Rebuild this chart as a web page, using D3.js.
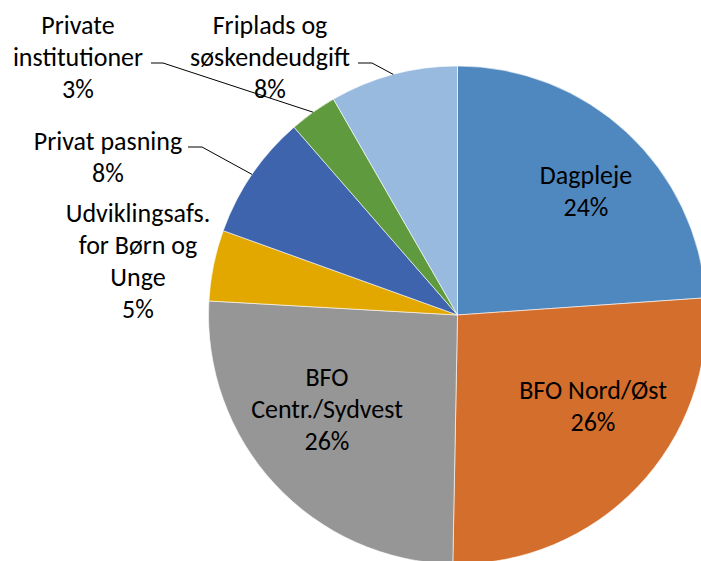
<!DOCTYPE html>
<html>
<head>
<meta charset="utf-8">
<script src="https://cdn.jsdelivr.net/npm/d3@7"></script>
<style>
  html, body { margin: 0; padding: 0; background: #fff; }
  svg { display: block; }
  text { font-family: Carlito, "Liberation Sans", sans-serif; font-size: 26px; fill: #000; }
</style>
</head>
<body>
<svg id="chart" width="701" height="561"></svg>
<script>
// ---- data ----
const categories = [
  "Dagpleje",
  "BFO Nord/Øst",
  "BFO Centr./Sydvest",
  "Udviklingsafs. for Børn og Unge",
  "Privat pasning",
  "Private institutioner",
  "Friplads og søskendeudgift"
];
const values = [23.9, 26.4, 25.6, 4.6, 8.1, 3.1, 8.3];
const labelLines = [
  ["Dagpleje"],
  ["BFO Nord/Øst"],
  ["BFO", "Centr./Sydvest"],
  ["Udviklingsafs.", "for Børn og", "Unge"],
  ["Privat pasning"],
  ["Private", "institutioner"],
  ["Friplads og", "søskendeudgift"]
];
const colors = ["#4F88BE", "#D46E2C", "#969696", "#E2A800", "#3D64AD", "#5F9A3F", "#98BADF"];

// ---- layout (label anchor = center x, first baseline y; leader = elbow point) ----
const labelAnchor = [
  [586, 184], [593, 399], [327, 386], [138, 222], [108, 150], [78, 34], [270, 34]
];
const leaderElbow = [null, null, null, null, [188, 147], [151, 63], [358, 63]];
const leaderSide  = [null, null, null, null, 14, 12, 14];
const lineH = 32;

const cx = 457.5, cy = 315, R = 249;
const svg = d3.select("#chart");
const g = svg.append("g").attr("transform", `translate(${cx},${cy})`);

const pie = d3.pie().sort(null).value(d => d).startAngle(0).endAngle(2 * Math.PI);
const arcs = pie(values);
const arc = d3.arc().innerRadius(0).outerRadius(R);
const total = d3.sum(values);

g.selectAll("path.slice")
  .data(arcs)
  .join("path")
  .attr("class", "slice")
  .attr("d", arc)
  .attr("fill", (d, i) => colors[i])
  .attr("stroke", "#fff")
  .attr("stroke-width", 0.6);

// leader lines
arcs.forEach((a, i) => {
  if (!leaderElbow[i]) return;
  const mid = (a.startAngle + a.endAngle) / 2;
  const ex = cx + R * Math.sin(mid), ey = cy - R * Math.cos(mid);
  const [bx, by] = leaderElbow[i];
  svg.append("polyline")
    .attr("points", `${bx},${by} ${bx + leaderSide[i]},${by} ${ex},${ey}`)
    .attr("fill", "none")
    .attr("stroke", "#000")
    .attr("stroke-width", 1);
});

// labels
arcs.forEach((a, i) => {
  const [lx, ly] = labelAnchor[i];
  const lines = labelLines[i].concat([Math.round(values[i] / total * 100) + "%"]);
  const t = svg.append("text").attr("text-anchor", "middle");
  lines.forEach((s, k) => {
    t.append("tspan").attr("x", lx).attr("y", ly + k * lineH).text(s);
  });
});
</script>
</body>
</html>
